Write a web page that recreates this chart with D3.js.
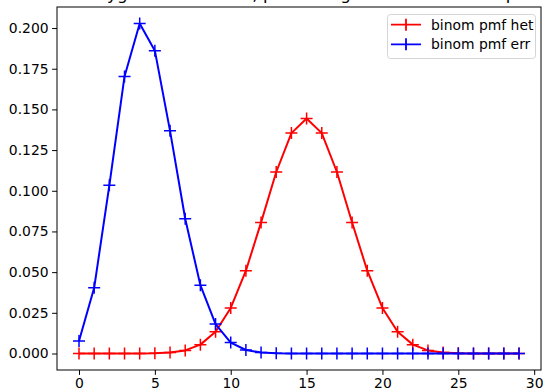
<!DOCTYPE html>
<html>
<head>
<meta charset="utf-8">
<script src="https://cdn.jsdelivr.net/npm/d3@7"></script>
<style>
  html, body { margin: 0; padding: 0; background: #fff; overflow: hidden; }
  svg { display: block; font-family: "DejaVu Sans", sans-serif; }
</style>
</head>
<body>
<div id="chart"></div>
<script>
// valeurs (k = 0..29)
const kValues = d3.range(0, 30);
const hetValues = [
  0, 0, 0, 0.000004, 0.000026, 0.000133, 0.000553, 0.001896, 0.005451, 0.013325,
  0.027982, 0.050875, 0.080553, 0.111535, 0.135435, 0.144464, 0.135435, 0.111535, 0.080553, 0.050875,
  0.027982, 0.013325, 0.005451, 0.001896, 0.000553, 0.000133, 0.000026, 0.000004, 0, 0
];
const errValues = [
  0.00763, 0.04039, 0.10336, 0.17024, 0.20279, 0.18609, 0.13683, 0.08279, 0.04200, 0.01812,
  0.00671, 0.00215, 0.00060, 0.00015, 0.00003, 0.00001, 0, 0, 0, 0,
  0, 0, 0, 0, 0, 0, 0, 0, 0, 0
];
const seriesNames = ['binom pmf het', 'binom pmf err'];
const seriesColors = ['red', 'blue'];
const xTicks = [0, 5, 10, 15, 20, 25, 30];
const yTicks = [0, 0.025, 0.05, 0.075, 0.1, 0.125, 0.15, 0.175, 0.2];
const titleText = 'Heterozygous read count, p = 0.5 against error 0.15 depth 30';

const width = 544, height = 391;
const margin = { left: 57, right: 3, top: 7, bottom: 21 };

const svg = d3.select('#chart')
  .append('svg')
  .attr('width', width)
  .attr('height', height);

// Échelles (marges de 5 % comme matplotlib)
const xScale = d3.scaleLinear()
  .domain([-1.45, 30.45])
  .range([margin.left, width - margin.right]);

const yMax = d3.max(errValues);
const yScale = d3.scaleLinear()
  .domain([-0.05 * yMax, 1.05 * yMax])
  .range([height - margin.bottom, margin.top]);

// Titre (coupé en haut de l'image)
svg.append('text')
  .attr('x', (margin.left + width - margin.right) / 2 + 2)
  .attr('y', 0)
  .attr('text-anchor', 'middle')
  .style('font-size', '16.7px')
  .text(titleText);

// Axe X
const xAxis = svg.append('g')
  .attr('transform', `translate(0, ${height - margin.bottom})`)
  .call(d3.axisBottom(xScale).tickValues(xTicks).tickSize(4.9).tickPadding(3.5).tickSizeOuter(0));

// Axe Y
const yAxis = svg.append('g')
  .attr('transform', `translate(${margin.left}, 0)`)
  .call(d3.axisLeft(yScale).tickValues(yTicks).tickFormat(d3.format('.3f')).tickSize(4.9).tickPadding(3.5).tickSizeOuter(0));

[xAxis, yAxis].forEach(ax => {
  ax.select('.domain').remove();
  ax.selectAll('line').attr('stroke', '#000').attr('stroke-width', 1);
  ax.selectAll('text').attr('fill', '#000').style('font-size', '13.9px').style('font-family', '"DejaVu Sans", sans-serif');
});

// Cadre
svg.append('rect')
  .attr('x', margin.left)
  .attr('y', margin.top)
  .attr('width', width - margin.right - margin.left)
  .attr('height', height - margin.bottom - margin.top)
  .attr('fill', 'none')
  .attr('stroke', '#000')
  .attr('stroke-width', 1);

const plotArea = svg.append('g');
const line = d3.line()
  .x(d => xScale(d.k))
  .y(d => yScale(d.v));

const allSeries = [hetValues, errValues].map((vals, i) => ({
  name: seriesNames[i],
  color: seriesColors[i],
  points: kValues.map((k, j) => ({ k: k, v: vals[j] }))
}));

const ms = 6;  // demi-taille du marqueur +

allSeries.forEach(s => {
  plotArea.append('path')
    .datum(s.points)
    .attr('fill', 'none')
    .attr('stroke', s.color)
    .attr('stroke-width', 2)
    .attr('stroke-linejoin', 'round')
    .attr('d', line);

  plotArea.selectAll(null)
    .data(s.points)
    .enter()
    .append('path')
    .attr('d', d => {
      const cx = xScale(d.k), cy = yScale(d.v);
      return `M${cx - ms},${cy}H${cx + ms}M${cx},${cy - ms}V${cy + ms}`;
    })
    .attr('stroke', s.color)
    .attr('stroke-width', 1.5)
    .attr('fill', 'none');
});

// Légende
const legend = svg.append('g');
legend.append('rect')
  .attr('x', 387.5)
  .attr('y', 14.5)
  .attr('width', 148)
  .attr('height', 44)
  .attr('rx', 3)
  .attr('fill', '#fff')
  .attr('fill-opacity', 0.8)
  .attr('stroke', '#d5d5d5')
  .attr('stroke-width', 1);

allSeries.forEach((s, i) => {
  const ly = 24.7 + i * 19.6;
  const g = legend.append('g');
  g.append('path')
    .attr('d', `M391,${ly}H421M${406 - ms},${ly}H${406 + ms}M406,${ly - ms}V${ly + ms}`)
    .attr('stroke', s.color)
    .attr('stroke-width', 1.8)
    .attr('fill', 'none');
  g.append('text')
    .attr('x', 431)
    .attr('y', ly)
    .attr('dy', '0.35em')
    .style('font-size', '13.9px')
    .attr('fill', '#000')
    .text(s.name);
});
</script>
</body>
</html>
